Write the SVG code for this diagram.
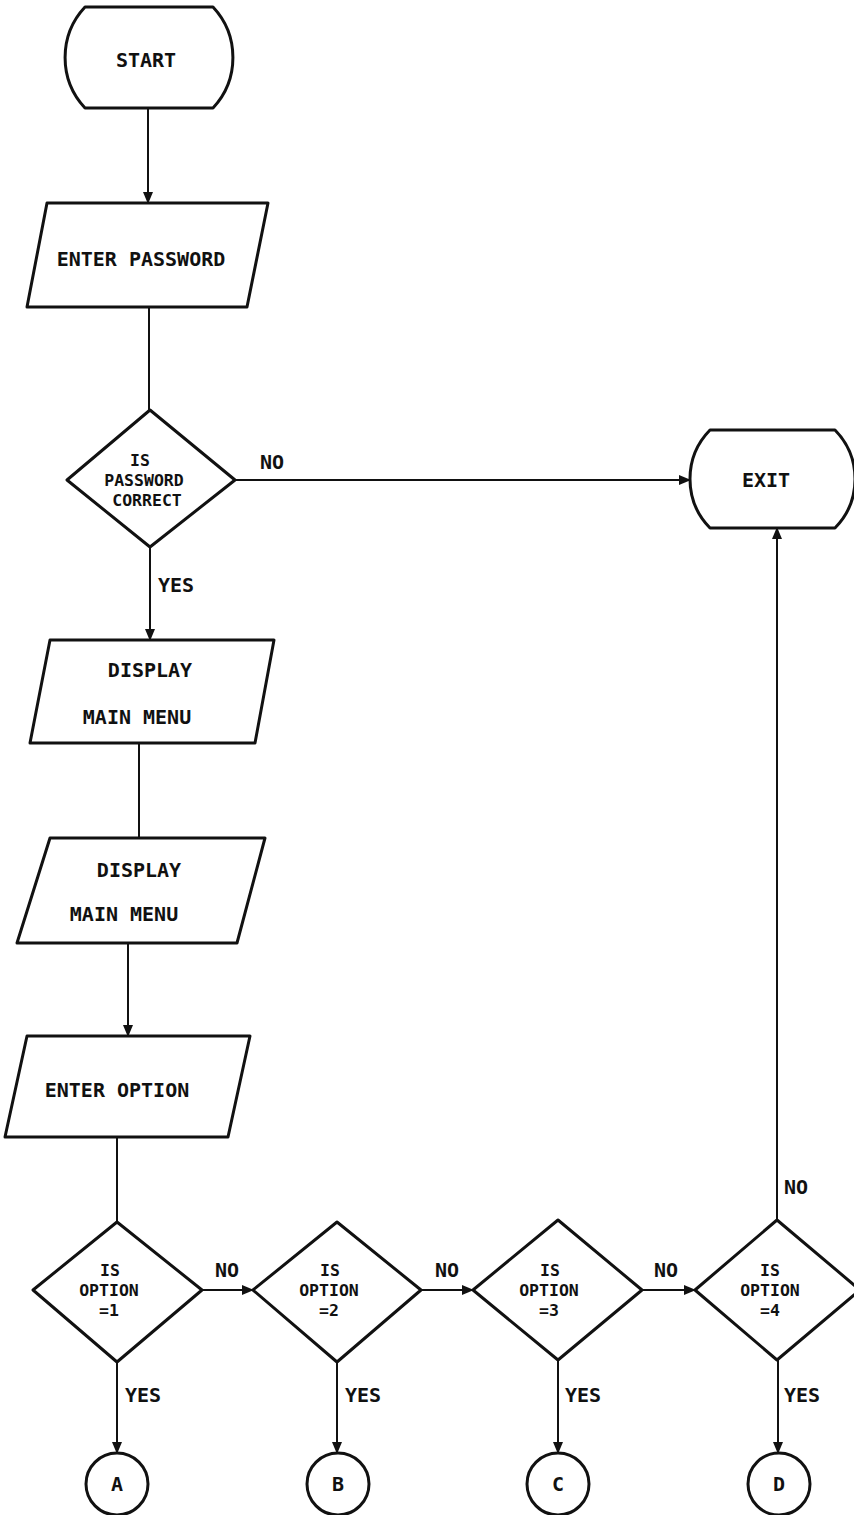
<svg xmlns="http://www.w3.org/2000/svg" width="854" height="1515" viewBox="0 0 854 1515">
  <style>
    .shape { fill: #ffffff; stroke: #111111; stroke-width: 3; stroke-linejoin: round; }
    .conn { fill: none; stroke: #111111; stroke-width: 2; }
    .t { font-family: "DejaVu Sans Mono", "Liberation Mono", monospace; font-weight: bold; font-size: 20px; fill: #111111; text-anchor: middle; }
    .d { font-size: 16.5px; }
  </style>
  <defs>
    <marker id="arrow" markerUnits="userSpaceOnUse" markerWidth="12" markerHeight="10" refX="11" refY="5" orient="auto">
      <path d="M0,0 L12,5 L0,10 Z" fill="#111111"/>
    </marker>
  </defs>
  <rect width="854" height="1515" fill="#ffffff"/>

  <!-- connectors -->
  <g id="connectors">
    <line class="conn" x1="148" y1="108" x2="148" y2="203" marker-end="url(#arrow)"/>
    <line class="conn" x1="149" y1="307" x2="149" y2="410"/>
    <line class="conn" x1="235" y1="480" x2="690" y2="480" marker-end="url(#arrow)"/>
    <text class="t" x="272" y="469">NO</text>
    <line class="conn" x1="150" y1="547" x2="150" y2="640" marker-end="url(#arrow)"/>
    <text class="t" x="176" y="592">YES</text>
    <line class="conn" x1="139" y1="743" x2="139" y2="838"/>
    <line class="conn" x1="128" y1="943" x2="128" y2="1036" marker-end="url(#arrow)"/>
    <line class="conn" x1="117" y1="1137" x2="117" y2="1222"/>
    <line class="conn" x1="202" y1="1290" x2="253" y2="1290" marker-end="url(#arrow)"/>
    <text class="t" x="227" y="1277">NO</text>
    <line class="conn" x1="421" y1="1290" x2="473" y2="1290" marker-end="url(#arrow)"/>
    <text class="t" x="447" y="1277">NO</text>
    <line class="conn" x1="642" y1="1290" x2="695" y2="1290" marker-end="url(#arrow)"/>
    <text class="t" x="666" y="1277">NO</text>
    <line class="conn" x1="777" y1="1220" x2="777" y2="528" marker-end="url(#arrow)"/>
    <text class="t" x="796" y="1194">NO</text>
    <line class="conn" x1="117" y1="1362" x2="117" y2="1453" marker-end="url(#arrow)"/>
    <text class="t" x="143" y="1402">YES</text>
    <line class="conn" x1="337" y1="1362" x2="337" y2="1453" marker-end="url(#arrow)"/>
    <text class="t" x="363" y="1402">YES</text>
    <line class="conn" x1="558" y1="1360" x2="558" y2="1453" marker-end="url(#arrow)"/>
    <text class="t" x="583" y="1402">YES</text>
    <line class="conn" x1="778" y1="1360" x2="778" y2="1453" marker-end="url(#arrow)"/>
    <text class="t" x="802" y="1402">YES</text>
  </g>

  <!-- terminals -->
  <g id="start">
    <path class="shape" d="M85,7 L213,7 A74,74 0 0 1 213,108 L85,108 A74,74 0 0 1 85,7 Z"/>
    <text class="t" x="146" y="67">START</text>
  </g>
  <g id="exit">
    <path class="shape" d="M710,430 L835,430 A70,70 0 0 1 835,528 L710,528 A70,70 0 0 1 710,430 Z"/>
    <text class="t" x="766" y="487">EXIT</text>
  </g>

  <!-- input / output boxes -->
  <g id="enter-password">
    <path class="shape" d="M47,203 L268,203 L247,307 L27,307 Z"/>
    <text class="t" x="141" y="266">ENTER PASSWORD</text>
  </g>
  <g id="display-menu-1">
    <path class="shape" d="M50,640 L274,640 L255,743 L30,743 Z"/>
    <text class="t" x="150" y="677">DISPLAY</text>
    <text class="t" x="137" y="724">MAIN MENU</text>
  </g>
  <g id="display-menu-2">
    <path class="shape" d="M50,838 L265,838 L237,943 L17,943 Z"/>
    <text class="t" x="139" y="877">DISPLAY</text>
    <text class="t" x="124" y="921">MAIN MENU</text>
  </g>
  <g id="enter-option">
    <path class="shape" d="M27,1036 L250,1036 L228,1137 L5,1137 Z"/>
    <text class="t" x="117" y="1097">ENTER OPTION</text>
  </g>

  <!-- decisions -->
  <g id="password-check">
    <path class="shape" d="M150,410 L235,480 L150,547 L67,480 Z"/>
    <text class="t d" x="140" y="466">IS</text>
    <text class="t d" x="144" y="486">PASSWORD</text>
    <text class="t d" x="147" y="506">CORRECT</text>
  </g>
  <g id="option-1">
    <path class="shape" d="M117,1222 L202,1290 L117,1362 L33,1290 Z"/>
    <text class="t d" x="110" y="1276">IS</text>
    <text class="t d" x="109" y="1296">OPTION</text>
    <text class="t d" x="109" y="1316">=1</text>
  </g>
  <g id="option-2">
    <path class="shape" d="M337,1222 L421,1290 L337,1362 L253,1290 Z"/>
    <text class="t d" x="330" y="1276">IS</text>
    <text class="t d" x="329" y="1296">OPTION</text>
    <text class="t d" x="329" y="1316">=2</text>
  </g>
  <g id="option-3">
    <path class="shape" d="M558,1220 L642,1290 L558,1360 L473,1290 Z"/>
    <text class="t d" x="550" y="1276">IS</text>
    <text class="t d" x="549" y="1296">OPTION</text>
    <text class="t d" x="549" y="1316">=3</text>
  </g>
  <g id="option-4">
    <path class="shape" d="M777,1220 L860,1290 L777,1360 L695,1290 Z"/>
    <text class="t d" x="770" y="1276">IS</text>
    <text class="t d" x="770" y="1296">OPTION</text>
    <text class="t d" x="770" y="1316">=4</text>
  </g>

  <!-- off-page connectors -->
  <g id="conn-a">
    <circle class="shape" cx="117" cy="1484" r="31"/>
    <text class="t" x="117" y="1491">A</text>
  </g>
  <g id="conn-b">
    <circle class="shape" cx="338" cy="1484" r="31"/>
    <text class="t" x="338" y="1491">B</text>
  </g>
  <g id="conn-c">
    <circle class="shape" cx="558" cy="1484" r="31"/>
    <text class="t" x="558" y="1491">C</text>
  </g>
  <g id="conn-d">
    <circle class="shape" cx="779" cy="1484" r="31"/>
    <text class="t" x="779" y="1491">D</text>
  </g>
</svg>
